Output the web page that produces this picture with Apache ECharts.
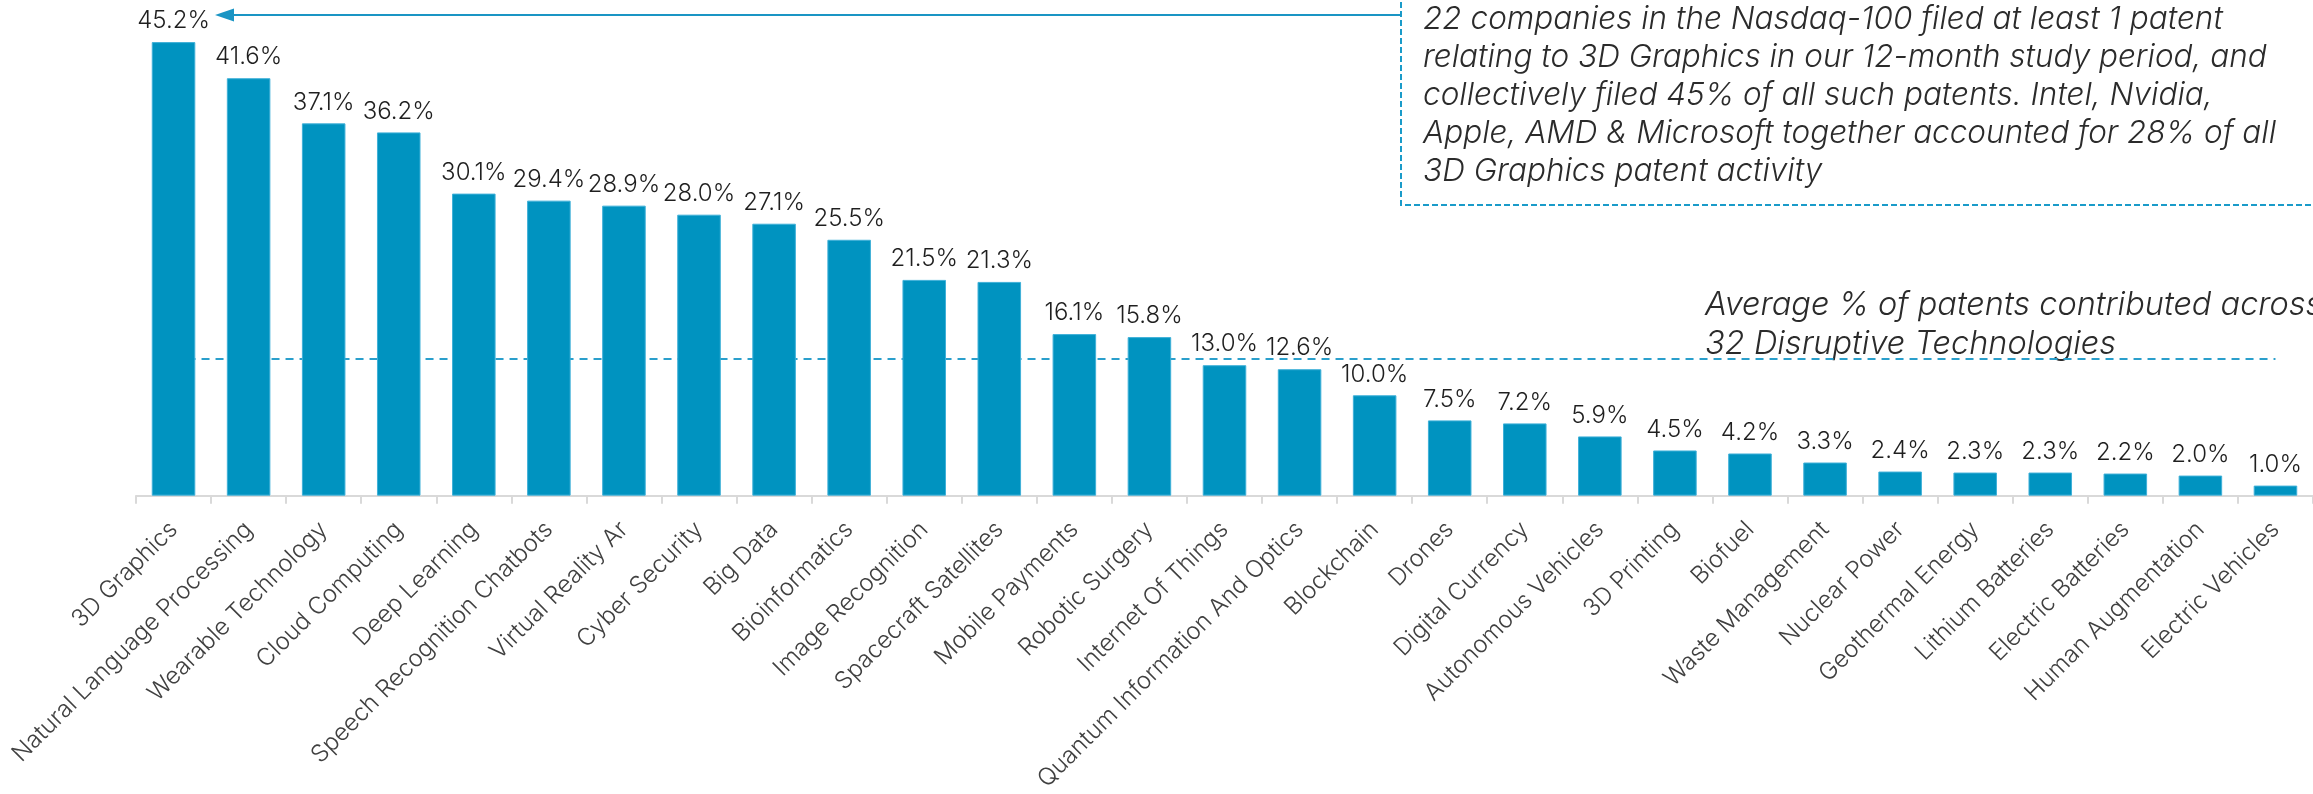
<!DOCTYPE html>
<html>
<head>
<meta charset="utf-8">
<script src="https://cdn.jsdelivr.net/npm/echarts@6/dist/echarts.min.js"></script>
<style>
html,body{margin:0;padding:0;background:#fff;}
#chart{width:2313px;height:794px;}
</style>
</head>
<body>
<div id="chart"></div>
<script>
const categories = ["3D Graphics","Natural Language Processing","Wearable Technology","Cloud Computing","Deep Learning","Speech Recognition Chatbots","Virtual Reality Ar","Cyber Security","Big Data","Bioinformatics","Image Recognition","Spacecraft Satellites","Mobile Payments","Robotic Surgery","Internet Of Things","Quantum Information And Optics","Blockchain","Drones","Digital Currency","Autonomous Vehicles","3D Printing","Biofuel","Waste Management","Nuclear Power","Geothermal Energy","Lithium Batteries","Electric Batteries","Human Augmentation","Electric Vehicles"];
const values = [45.2,41.6,37.1,36.2,30.1,29.4,28.9,28.0,27.1,25.5,21.5,21.3,16.1,15.8,13.0,12.6,10.0,7.5,7.2,5.9,4.5,4.2,3.3,2.4,2.3,2.3,2.2,2.0,1.0];
const averageValue = 13.6;
const averageText = "Average % of patents contributed across\n32 Disruptive Technologies";
const calloutText = "22 companies in the Nasdaq-100 filed at least 1 patent\nrelating to 3D Graphics in our 12-month study period, and\ncollectively filed 45% of all such patents. Intel, Nvidia,\nApple, AMD & Microsoft together accounted for 28% of all\n3D Graphics patent activity";

const FONT = 'Inter, "Noto Sans", sans-serif';
const chart = echarts.init(document.getElementById('chart'), null, {renderer: 'canvas'});
chart.setOption({
  animation: false,
  backgroundColor: '#ffffff',
  grid: {left: 136, width: 2181, top: 14, height: 484, containLabel: false},
  xAxis: {
    type: 'category',
    data: categories,
    axisLine: {show: true, lineStyle: {color: '#d9d9d9', width: 2}},
    axisTick: {show: true, length: 8, lineStyle: {color: '#d9d9d9', width: 2}},
    axisLabel: {
      interval: 0, rotate: 45, margin: 30,
      fontFamily: FONT, fontSize: 24, fontWeight: 300, color: '#404040'
    }
  },
  yAxis: {
    type: 'value', min: 0, max: 48, show: false,
    splitLine: {show: false}
  },
  series: [
    {
      type: 'bar',
      data: values,
      barWidth: '58%',
      z: 3,
      itemStyle: {color: '#0093c0', borderColor: '#3fb0d8', borderWidth: 1},
      label: {
        show: true, position: 'top', distance: 9,
        fontFamily: FONT, fontSize: 24, fontWeight: 300, color: '#1f1f1f',
        formatter: p => p.value.toFixed(1) + '%'
      }
    },
    {
      type: 'line',
      data: [],
      z: 1,
      markLine: {
        z: 1,
        silent: true,
        symbol: ['none', 'none'],
        label: {show: false},
        lineStyle: {color: '#2a9fcc', type: [8, 6], width: 2},
        data: [[
          {coord: [categories[0], averageValue]},
          {coord: [categories[categories.length - 1], averageValue]}
        ]]
      }
    }
  ],
  graphic: [
    {
      type: 'rect', silent: true,
      shape: {x: 1401, y: -10, width: 1000, height: 215},
      style: {fill: 'none', stroke: '#1a9bc9', lineWidth: 2, lineDash: [6, 3]}
    },
    {
      type: 'text', silent: true, x: 1423, y: 1,
      style: {
        text: calloutText, fill: '#2b2b2b',
        font: 'italic 300 31.5px ' + FONT, lineHeight: 38,
        verticalAlign: 'top'
      }
    },
    {
      type: 'line', silent: true,
      shape: {x1: 1401, y1: 15, x2: 228, y2: 15},
      style: {stroke: '#1a95c4', lineWidth: 2}
    },
    {
      type: 'polygon', silent: true,
      shape: {points: [[215, 15], [234, 8.5], [234, 21.5]]},
      style: {fill: '#1a95c4'}
    },
    {
      type: 'text', silent: true, x: 1705, y: 286,
      style: {
        text: averageText, fill: '#2b2b2b',
        font: 'italic 300 32.5px ' + FONT, lineHeight: 39,
        verticalAlign: 'top'
      }
    }
  ]
});
</script>
</body>
</html>
